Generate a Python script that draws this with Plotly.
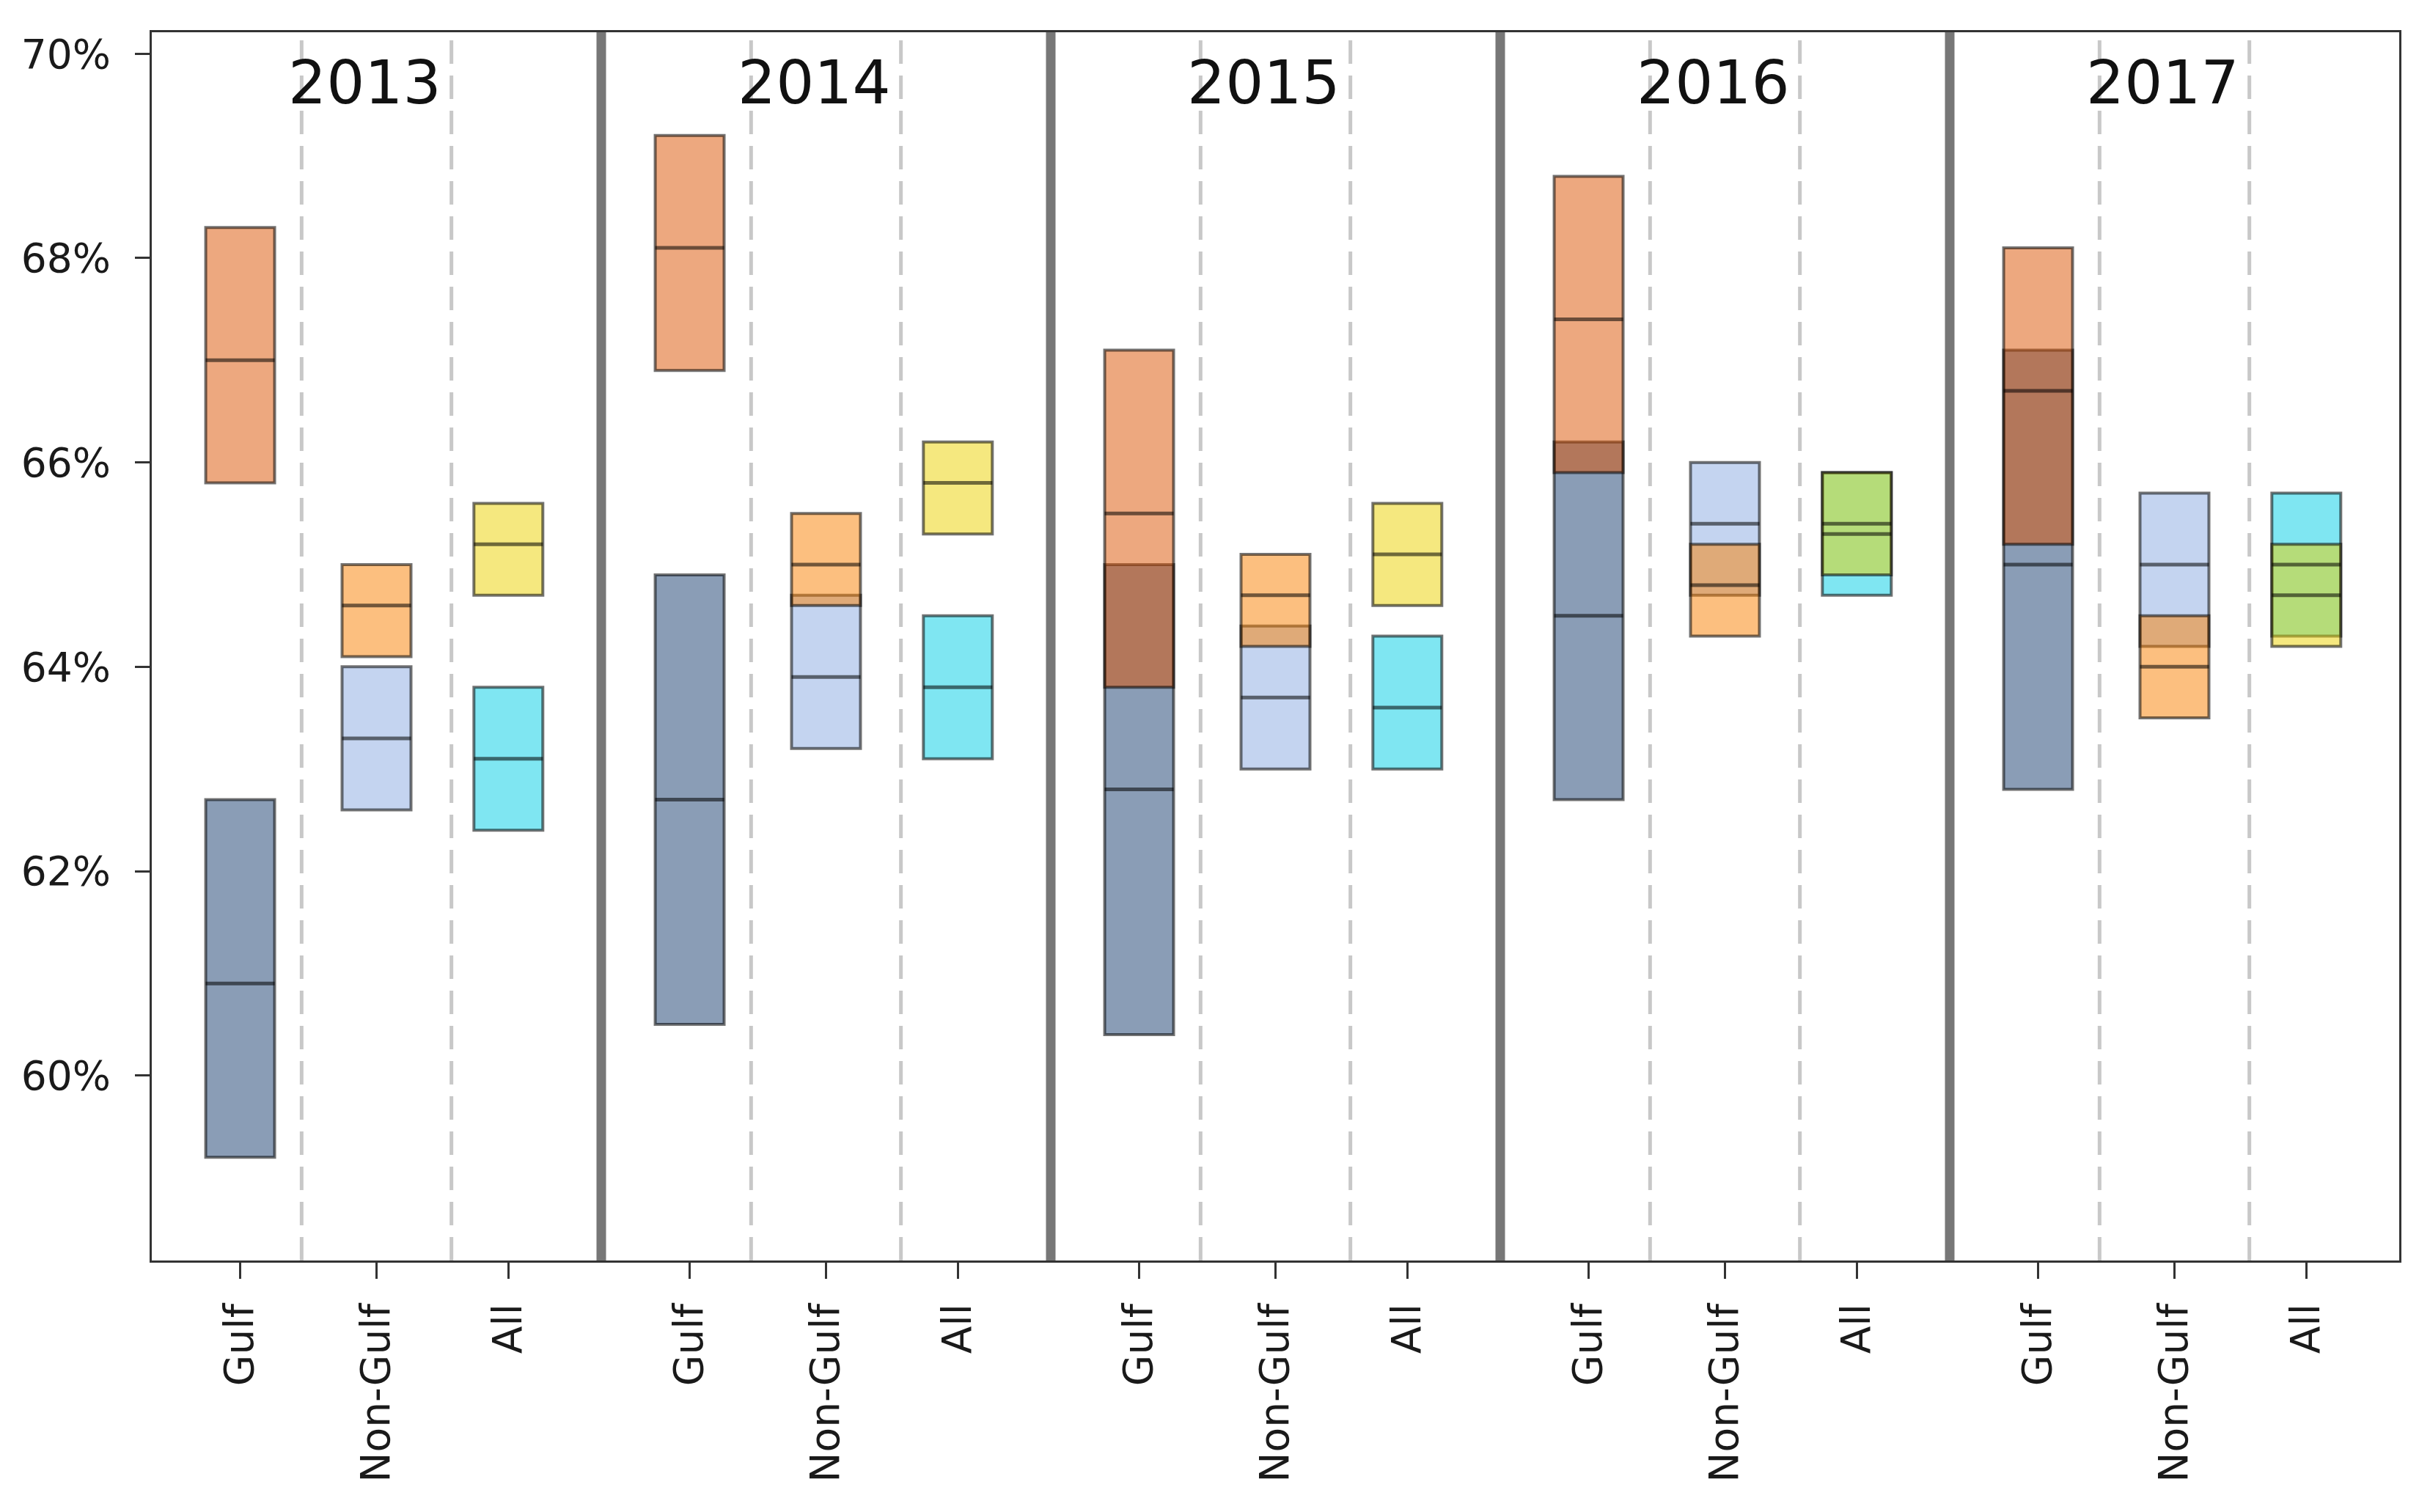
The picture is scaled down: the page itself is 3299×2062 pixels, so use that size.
import plotly.graph_objects as go

# ---------------- data ----------------
years = [2013, 2014, 2015, 2016, 2017]
groups = ["Gulf", "Non-Gulf", "All"]

# series A (orange / yellow, drawn on top): low, median, high per year
gulf_a_low = [65.8, 66.9, 63.8, 65.9, 65.2]
gulf_a_med = [67.0, 68.1, 65.5, 67.4, 66.7]
gulf_a_high = [68.3, 69.2, 67.1, 68.8, 68.1]

nongulf_a_low = [64.1, 64.6, 64.2, 64.3, 63.5]
nongulf_a_med = [64.6, 65.0, 64.7, 64.8, 64.0]
nongulf_a_high = [65.0, 65.5, 65.1, 65.2, 64.5]

all_a_low = [64.7, 65.3, 64.6, 64.9, 64.2]
all_a_med = [65.2, 65.8, 65.1, 65.4, 64.7]
all_a_high = [65.6, 66.2, 65.6, 65.9, 65.2]

# series B (blue / cyan)
gulf_b_low = [59.2, 60.5, 60.4, 62.7, 62.8]
gulf_b_med = [60.9, 62.7, 62.8, 64.5, 65.0]
gulf_b_high = [62.7, 64.9, 65.0, 66.2, 67.1]

nongulf_b_low = [62.6, 63.2, 63.0, 64.7, 64.2]
nongulf_b_med = [63.3, 63.9, 63.7, 65.4, 65.0]
nongulf_b_high = [64.0, 64.7, 64.4, 66.0, 65.7]

all_b_low = [62.4, 63.1, 63.0, 64.7, 64.3]
all_b_med = [63.1, 63.8, 63.6, 65.3, 65.0]
all_b_high = [63.8, 64.5, 64.3, 65.9, 65.7]

y_tick_values = [60, 62, 64, 66, 68, 70]

# ---------------- styling / layout ----------------
FONT = "DejaVu Sans"
panel_w = len(groups)
offsets = [0.59, 1.5, 2.38]
box_w = 0.46

colors_a = ["rgba(219,81,0,0.5)", "rgba(249,127,0,0.5)", "rgba(235,209,0,0.5)"]
colors_b = ["rgba(21,59,109,0.5)", "rgba(137,170,225,0.5)", "rgba(0,205,230,0.5)"]
edge = "rgba(0,0,0,0.55)"

series_b = [
    (gulf_b_low, gulf_b_med, gulf_b_high),
    (nongulf_b_low, nongulf_b_med, nongulf_b_high),
    (all_b_low, all_b_med, all_b_high),
]
series_a = [
    (gulf_a_low, gulf_a_med, gulf_a_high),
    (nongulf_a_low, nongulf_a_med, nongulf_a_high),
    (all_a_low, all_a_med, all_a_high),
]

fig = go.Figure()


def positions(gi):
    return [yi * panel_w + offsets[gi] for yi in range(len(years))]


def add_boxes(series, colors):
    for gi, (lo, med, hi) in enumerate(series):
        xs = positions(gi)
        fig.add_trace(go.Bar(
            x=xs,
            y=[h - l for l, h in zip(lo, hi)],
            base=lo,
            width=box_w,
            marker=dict(color=colors[gi], line=dict(color=edge, width=4)),
            showlegend=False,
            hoverinfo="skip",
        ))


add_boxes(series_b, colors_b)
add_boxes(series_a, colors_a)

# median lines
for series in (series_b, series_a):
    for gi, (lo, med, hi) in enumerate(series):
        xs = positions(gi)
        mx, my = [], []
        for x, m in zip(xs, med):
            mx += [x - box_w / 2, x + box_w / 2, None]
            my += [m, m, None]
        fig.add_trace(go.Scatter(
            x=mx, y=my, mode="lines",
            line=dict(color="rgba(0,0,0,0.55)", width=5),
            showlegend=False, hoverinfo="skip",
        ))

shapes = []
n_panels = len(years)
for p in range(n_panels):
    # dashed separators between groups
    for k in range(1, panel_w):
        shapes.append(dict(
            type="line", xref="x", yref="paper",
            x0=p * panel_w + k, x1=p * panel_w + k, y0=0, y1=1,
            line=dict(color="#c8c8c8", width=5, dash="32px,16px"),
            layer="below",
        ))
    # thick panel separators
    if p > 0:
        shapes.append(dict(
            type="line", xref="x", yref="paper",
            x0=p * panel_w, x1=p * panel_w, y0=0, y1=1,
            line=dict(color="#777777", width=13),
            layer="above",
        ))

annotations = []
for p, yr in enumerate(years):
    annotations.append(dict(
        x=p * panel_w + 1.42, y=69.72, xref="x", yref="y",
        text=str(yr), showarrow=False,
        font=dict(family=FONT, size=82, color="#111111"),
        xanchor="center", yanchor="middle",
    ))

tickvals, ticktext = [], []
for yi in range(len(years)):
    for gi, g in enumerate(groups):
        tickvals.append(yi * panel_w + offsets[gi])
        ticktext.append(g)

fig.update_layout(
    width=3299, height=2062,
    margin=dict(l=199, r=35, t=36, b=351),
    paper_bgcolor="white", plot_bgcolor="white",
    barmode="overlay",
    shapes=shapes,
    annotations=annotations,
    font=dict(family=FONT, size=55, color="#1a1a1a"),
)

fig.update_xaxes(
    range=[0, n_panels * panel_w],
    tickmode="array", tickvals=tickvals, ticktext=ticktext,
    tickangle=-90,
    ticks="outside", ticklen=22, tickwidth=3, tickcolor="#333333",
    showline=True, linecolor="#333333", linewidth=3, mirror=True,
    showgrid=False, zeroline=False,
    tickfont=dict(family=FONT, size=55, color="#1a1a1a"),
    ticklabelstandoff=12,
)
fig.update_yaxes(
    range=[58.19, 70.21],
    tickmode="array", tickvals=y_tick_values,
    ticktext=[f"{v}%" for v in y_tick_values],
    ticks="outside", ticklen=20, tickwidth=3, tickcolor="#333333",
    showline=True, linecolor="#333333", linewidth=3, mirror=True,
    showgrid=False, zeroline=False,
    tickfont=dict(family=FONT, size=55, color="#1a1a1a"),
    ticklabelstandoff=22,
)

fig.write_html("out.html")
